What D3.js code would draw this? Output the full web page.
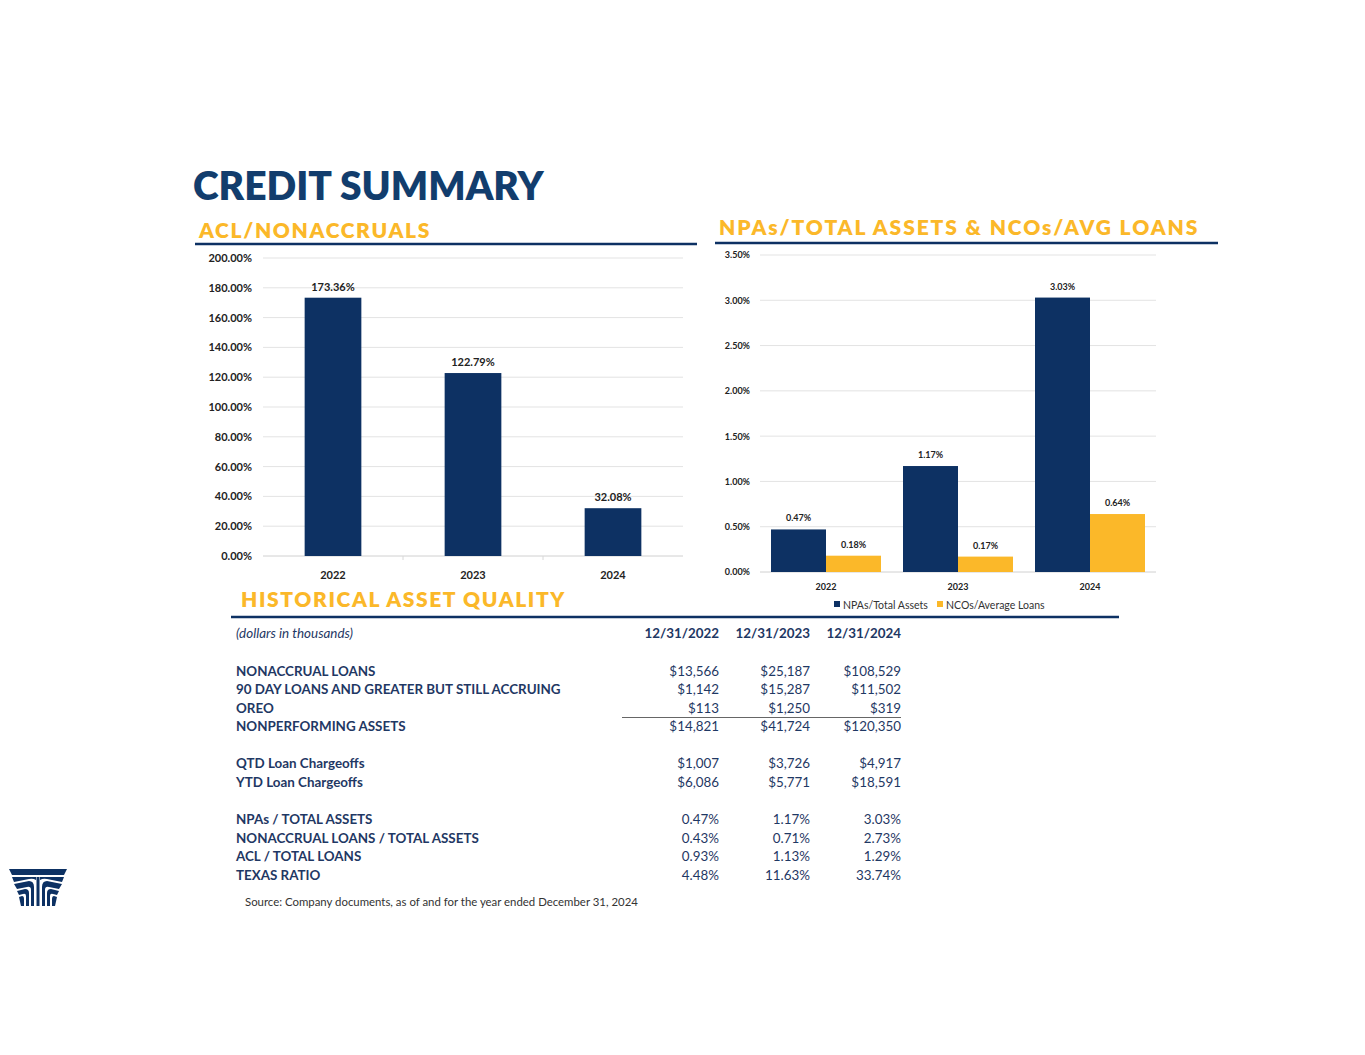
<!DOCTYPE html>
<html><head><meta charset="utf-8">
<script src="https://cdn.jsdelivr.net/npm/d3@7"></script>
<style>
html,body{margin:0;padding:0;background:#fff;}
svg{display:block;font-family:Lato,"Open Sans",sans-serif;}
</style></head>
<body>
<svg id="c" width="1365" height="1055"></svg>
<script>
// ---- data ----
const years = ["2022","2023","2024"];
const aclNonaccruals = [173.36, 122.79, 32.08];
const aclTicks = [0,20,40,60,80,100,120,140,160,180,200];
const npaSeries = ["NPAs/Total Assets","NCOs/Average Loans"];
const npaTotalAssets = [0.47, 1.17, 3.03];
const ncoAvgLoans = [0.18, 0.17, 0.64];
const npaTicks = [0,0.5,1,1.5,2,2.5,3,3.5];
const tableCols = ["12/31/2022","12/31/2023","12/31/2024"];
const rowLabels = ["NONACCRUAL LOANS","90 DAY LOANS AND GREATER BUT STILL ACCRUING","OREO","NONPERFORMING ASSETS",
  "QTD Loan Chargeoffs","YTD Loan Chargeoffs",
  "NPAs / TOTAL ASSETS","NONACCRUAL LOANS / TOTAL ASSETS","ACL / TOTAL LOANS","TEXAS RATIO"];
const rowValues = [
  ["$13,566","$25,187","$108,529"],
  ["$1,142","$15,287","$11,502"],
  ["$113","$1,250","$319"],
  ["$14,821","$41,724","$120,350"],
  ["$1,007","$3,726","$4,917"],
  ["$6,086","$5,771","$18,591"],
  ["0.47%","1.17%","3.03%"],
  ["0.43%","0.71%","2.73%"],
  ["0.93%","1.13%","1.29%"],
  ["4.48%","11.63%","33.74%"]
];

const NAVY = "#0d3163", GOLD = "#fbb829", TITLE = "#123d6d", TEXT = "#1f3864";
const svg = d3.select("#c");

// ---- titles ----
svg.append("text").attr("x",193).attr("y",200).attr("fill",TITLE)
  .attr("font-size",39).attr("font-weight",800).text("CREDIT SUMMARY");
function heading(x,y,t,ls){
  svg.append("text").attr("x",x).attr("y",y).attr("fill",GOLD).attr("font-size",21)
    .attr("font-weight",800).attr("letter-spacing",ls).text(t);
}
heading(199,238,"ACL/NONACCRUALS",1.65);
heading(719,235,"NPAs/TOTAL ASSETS & NCOs/AVG LOANS",1.9);
heading(241,607,"HISTORICAL ASSET QUALITY",1.6);
function hline(x1,x2,y){
  svg.append("line").attr("x1",x1).attr("x2",x2).attr("y1",y).attr("y2",y)
    .attr("stroke",NAVY).attr("stroke-width",2.5);
}
hline(195,697,244);
hline(715,1218,243);
hline(231,1119,617);

// ---- left chart ----
{
  const x = d3.scaleBand().domain(years).range([263,683]);
  const y = d3.scaleLinear().domain([0,200]).range([556,258]);
  const g = svg.append("g");
  g.selectAll("line.grid").data(aclTicks).join("line")
    .attr("x1",263).attr("x2",683).attr("y1",d=>y(d)).attr("y2",d=>y(d))
    .attr("stroke",d=>d===0?"#d0d0d0":"#e3e3e3").attr("stroke-width",1);
  const ax = g.append("g").attr("transform","translate(252,0)")
    .call(d3.axisLeft(y).tickValues(aclTicks).tickSize(0).tickPadding(0).tickFormat(d=>d3.format(".2f")(d)+"%"));
  ax.select(".domain").remove();
  ax.selectAll("text").attr("font-size",11).attr("font-weight",700).attr("fill","#222").attr("font-family","Lato");
  g.selectAll("line.sep").data([1,2]).join("line")
    .attr("x1",d=>263+d*x.bandwidth()).attr("x2",d=>263+d*x.bandwidth())
    .attr("y1",556).attr("y2",560).attr("stroke","#d8d8d8");
  const bw = x.bandwidth()*0.405;
  g.selectAll("rect").data(years).join("rect")
    .attr("x",(d)=>x(d)+x.bandwidth()/2-bw/2).attr("width",bw)
    .attr("y",(d,i)=>y(aclNonaccruals[i])).attr("height",(d,i)=>556-y(aclNonaccruals[i]))
    .attr("fill",NAVY);
  g.selectAll("text.lbl").data(years).join("text").attr("class","lbl")
    .attr("x",d=>x(d)+x.bandwidth()/2).attr("y",(d,i)=>y(aclNonaccruals[i])-7)
    .attr("text-anchor","middle").attr("font-size",11).attr("font-weight",700).attr("fill","#222")
    .text((d,i)=>d3.format(".2f")(aclNonaccruals[i])+"%");
  const bx = g.append("g").attr("transform","translate(0,556)")
    .call(d3.axisBottom(x).tickSize(0).tickPadding(15));
  bx.select(".domain").remove();
  bx.selectAll("text").attr("font-size",11).attr("font-weight",700).attr("fill","#222").attr("font-family","Lato");
}

// ---- right chart ----
{
  const x = d3.scaleBand().domain(years).range([760,1156]);
  const y = d3.scaleLinear().domain([0,3.5]).range([572,255]);
  const g = svg.append("g");
  g.selectAll("line.grid").data(npaTicks).join("line")
    .attr("x1",760).attr("x2",1156).attr("y1",d=>y(d)).attr("y2",d=>y(d))
    .attr("stroke",d=>d===0?"#d0d0d0":"#e3e3e3");
  const ax = g.append("g").attr("transform","translate(750,0)")
    .call(d3.axisLeft(y).tickValues(npaTicks).tickSize(0).tickPadding(0).tickFormat(d=>d3.format(".2f")(d)+"%"));
  ax.select(".domain").remove();
  ax.selectAll("text").attr("font-size",9).attr("font-weight",700).attr("fill","#222").attr("font-family","Lato");
  const sub = d3.scaleBand().domain(npaSeries).range([0,x.bandwidth()]).paddingOuter(0.2);
  const series = [npaTotalAssets, ncoAvgLoans];
  const colors = [NAVY, GOLD];
  series.forEach((vals,si)=>{
    g.selectAll("rect.s"+si).data(years).join("rect").attr("class","s"+si)
      .attr("x",d=>x(d)+sub(npaSeries[si])).attr("width",sub.bandwidth())
      .attr("y",(d,i)=>y(vals[i])).attr("height",(d,i)=>572-y(vals[i])).attr("fill",colors[si]);
    g.selectAll("text.l"+si).data(years).join("text").attr("class","l"+si)
      .attr("x",d=>x(d)+sub(npaSeries[si])+sub.bandwidth()/2).attr("y",(d,i)=>y(vals[i])-8)
      .attr("text-anchor","middle").attr("font-size",9).attr("font-weight",700).attr("fill","#222")
      .text((d,i)=>d3.format(".2f")(vals[i])+"%");
  });
  const bx = g.append("g").attr("transform","translate(0,572)")
    .call(d3.axisBottom(x).tickSize(0).tickPadding(12));
  bx.select(".domain").remove();
  bx.selectAll("text").attr("font-size",9).attr("font-weight",700).attr("fill","#222").attr("font-family","Lato");
  const lx = [834, 937];
  npaSeries.forEach((s,i)=>{
    g.append("rect").attr("x",lx[i]).attr("y",601).attr("width",6).attr("height",6).attr("fill",colors[i]);
    g.append("text").attr("x",lx[i]+9).attr("y",608.5).attr("font-size",10.5).attr("fill","#333").text(s);
  });
}

// ---- table ----
{
  const colX = [719, 810, 901];
  const g = svg.append("g").attr("font-size",13.4);
  g.append("text").attr("x",236).attr("y",638).attr("font-style","italic").attr("fill",TEXT).text("(dollars in thousands)");
  tableCols.forEach((c,i)=>g.append("text").attr("x",colX[i]).attr("y",638).attr("text-anchor","end")
    .attr("font-weight",700).attr("fill",TEXT).text(c));
  const rowY = [676,694,713,731,768,787,824,843,861,880];
  rowLabels.forEach((l,r)=>{
    g.append("text").attr("x",236).attr("y",rowY[r]).attr("font-weight",700).attr("fill",TEXT).text(l);
    rowValues[r].forEach((v,i)=>g.append("text").attr("x",colX[i]).attr("y",rowY[r]).attr("text-anchor","end")
      .attr("fill",TEXT).text(v));
  });
  g.append("line").attr("x1",622).attr("x2",901).attr("y1",717.5).attr("y2",717.5).attr("stroke","#666").attr("stroke-width",1);
  svg.append("text").attr("x",245).attr("y",906).attr("font-size",11.4).attr("fill","#333")
    .text("Source: Company documents, as of and for the year ended December 31, 2024");
}

// ---- logo ----
{
  const g = svg.append("g").attr("fill",NAVY);
  g.append("path").attr("d","M9,869 L67,869 L64,875 L12,875 Z");
  g.append("path").attr("d","M12,877 L36,877 L36,880 Q33,878 29,879 L14,882 Z");
  g.append("path").attr("d","M40,877 L64,877 L62,882 L47,879 Q43,878 40,880 Z");
  g.append("path").attr("d","M14,884 L29,881 Q34,881 34,887 L34,906 L31,906 L31,890 Q31,886 27,887 L17,889 Z");
  g.append("path").attr("d","M62,884 L47,881 Q42,881 42,887 L42,906 L45,906 L45,890 Q45,886 49,887 L59,889 Z");
  g.append("path").attr("d","M17,891 L25,889 Q29,889 29,893 L29,906 L26,906 L26,896 Q26,893 23,894 L19,895 Z");
  g.append("path").attr("d","M59,891 L51,889 Q47,889 47,893 L47,906 L50,906 L50,896 Q50,893 53,894 L57,895 Z");
  g.append("path").attr("d","M19,897 L22,896 Q24,896 24,899 L24,906 L21,906 Z");
  g.append("path").attr("d","M57,897 L54,896 Q52,896 52,899 L52,906 L55,906 Z");
  g.append("rect").attr("x",36.5).attr("y",877).attr("width",3).attr("height",29);
}
</script>
</body></html>
